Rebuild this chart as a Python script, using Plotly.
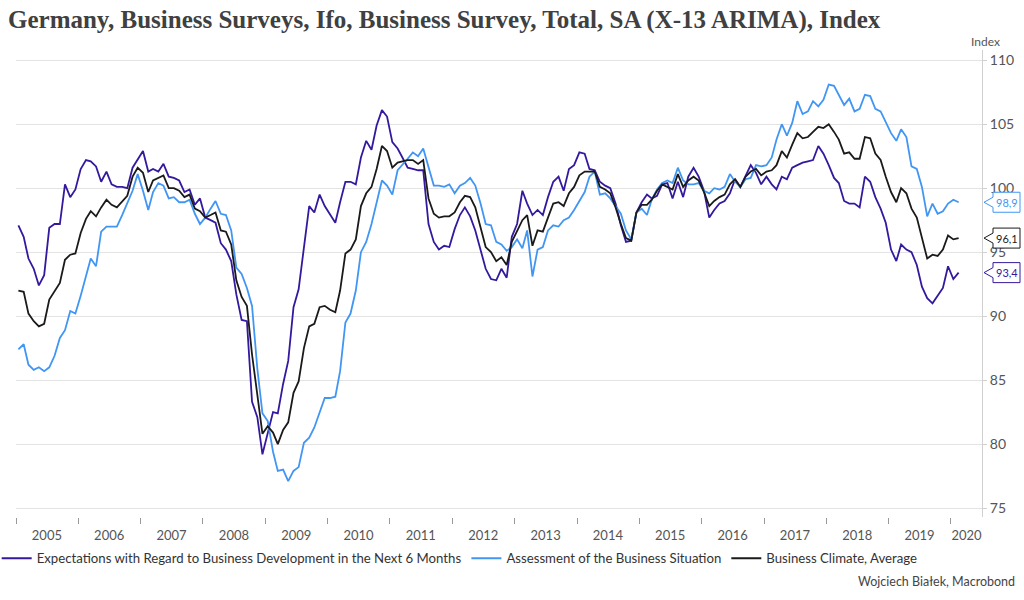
import pandas as pd
import plotly.graph_objects as go

# Monthly data Jan 2005 .. Feb 2020
start_month = "2005-01-01"

expectations = [
    97.1, 96.2, 94.5, 93.7, 92.4, 93.2, 96.9, 97.2, 97.2, 100.3, 99.3, 99.9,
    101.5, 102.2, 102.1, 101.7, 100.5, 101.3, 100.3, 100.1, 100.1, 100.0, 101.6, 102.2,
    102.9, 101.3, 101.5, 101.3, 101.9, 100.9, 100.8, 100.6, 99.7, 99.9, 98.7, 99.2,
    97.7, 97.5, 97.3, 95.7, 95.2, 94.3, 91.7, 89.7, 89.6, 83.3, 82.1, 79.2,
    80.9, 82.5, 82.4, 84.7, 86.5, 90.7, 92.1, 95.4, 98.6, 98.1, 99.5, 98.6,
    98.0, 97.3, 98.9, 100.5, 100.5, 100.3, 102.4, 103.7, 103.0, 104.9, 106.1, 105.6,
    103.6, 103.1, 102.4, 101.6, 101.5, 101.4, 101.4, 97.2, 95.8, 95.2, 95.5, 95.4,
    96.8, 97.9, 98.5, 97.8, 96.7, 95.1, 93.7, 92.9, 92.8, 93.7, 93.0, 96.2,
    97.2, 99.8, 98.8, 97.9, 98.3, 97.9, 99.3, 100.5, 100.9, 99.8, 101.5, 101.8,
    102.8, 102.7, 101.5, 101.4, 100.5, 100.2, 100.0, 98.8, 97.1, 95.8, 95.9, 98.1,
    98.9, 99.5, 99.2, 99.4, 100.3, 100.4, 99.2, 100.5, 99.3, 100.9, 101.6, 100.9,
    99.8, 97.7, 98.3, 98.8, 99.0, 99.6, 100.7, 100.1, 101.0, 101.8, 101.2, 100.3,
    100.9, 100.3, 99.9, 100.9, 100.7, 101.6, 101.8, 102.0, 102.1, 102.2, 103.3, 102.7,
    101.8, 100.8, 100.4, 99.0, 98.8, 98.8, 98.5, 100.9, 100.5, 99.3, 98.4, 97.3,
    95.2, 94.3, 95.6, 95.2, 95.0, 94.0, 92.3, 91.4, 91.0, 91.6, 92.2, 93.9,
    92.9, 93.4,
]

assessment = [
    87.4, 87.8, 86.2, 85.8, 86.0, 85.7, 86.0, 86.9, 88.3, 88.9, 90.4, 90.2,
    91.6, 93.1, 94.5, 93.9, 96.6, 97.0, 97.0, 97.0, 97.9, 98.8, 99.8, 101.1,
    99.8, 98.3, 99.7, 100.4, 100.2, 99.2, 99.3, 98.9, 98.9, 99.1, 98.0, 97.2,
    97.7, 98.4, 99.0, 98.0, 97.9, 96.7, 93.8, 93.3, 92.2, 90.8, 85.9, 82.4,
    81.8, 79.4, 77.9, 78.0, 77.1, 77.9, 78.2, 80.1, 80.5, 81.3, 82.4, 83.6,
    83.6, 83.7, 85.7, 89.5, 90.2, 92.0, 95.0, 95.8, 97.2, 98.9, 100.6, 100.2,
    99.5, 101.4, 101.8, 102.3, 102.8, 102.5, 103.1, 101.7, 100.2, 100.2, 100.1, 100.3,
    99.6, 100.2, 100.4, 100.8, 100.2, 98.8, 97.2, 97.1, 95.8, 95.6, 95.1, 95.4,
    96.0, 95.3, 96.7, 93.1, 95.2, 95.4, 96.7, 97.1, 97.0, 97.5, 97.7, 98.3,
    99.0, 99.7, 100.9, 101.3, 99.5, 99.6, 99.2, 98.6, 98.0, 96.7, 96.0, 98.1,
    98.4, 97.9, 99.1, 99.9, 100.4, 100.6, 100.4, 101.6, 100.6, 100.3, 100.3, 100.4,
    99.8, 99.6, 100.0, 99.9, 100.1, 101.1, 100.5, 100.1, 100.7, 100.8, 101.8, 101.7,
    101.8, 102.4, 103.8, 105.0, 104.1, 105.1, 106.8, 105.8, 106.0, 106.8, 106.4, 106.9,
    108.1, 108.0, 107.3, 106.5, 107.0, 106.0, 106.2, 107.3, 107.2, 106.2, 106.0, 105.2,
    104.3, 103.7, 104.6, 104.0, 101.7, 101.5, 100.1, 97.8, 98.8, 98.0, 98.2, 98.8,
    99.1, 98.9,
]

climate = [
    92.0, 91.9, 90.2, 89.6, 89.2, 89.4, 91.3, 91.9, 92.6, 94.4, 94.8, 94.9,
    96.5, 97.6, 98.2, 97.8, 98.5, 99.1, 98.7, 98.5, 99.0, 99.4, 100.9, 101.6,
    101.2, 99.7, 100.6, 100.8, 101.0, 100.0, 100.0, 99.8, 99.3, 99.5, 98.4, 98.2,
    97.7, 97.9, 98.1, 96.7, 96.6, 95.6, 92.8, 91.5, 90.8, 87.0, 84.0, 80.8,
    81.4, 80.9, 80.0, 81.1, 81.7, 84.0, 84.9, 87.5, 89.2, 89.4, 90.7, 90.8,
    90.5, 90.3, 92.0, 94.9, 95.2, 96.0, 98.6, 99.6, 100.1, 101.5, 103.3, 102.9,
    101.6, 102.0, 102.1, 102.2, 102.2, 101.9, 102.2, 99.2, 98.0, 97.7, 97.8, 97.8,
    98.1, 98.9, 99.4, 99.3, 98.5, 97.0, 95.4, 95.0, 94.3, 94.6, 94.0, 95.8,
    96.6, 97.5, 97.9, 95.5, 96.7, 96.6, 97.7, 98.8, 98.9, 98.6, 99.6, 100.1,
    101.0, 101.3, 101.3, 101.3, 100.1, 99.9, 99.6, 98.5, 97.2, 96.1, 95.9, 98.1,
    98.7, 98.7, 99.1, 99.8, 100.3, 100.1, 99.9, 101.1, 100.1, 100.6, 100.9, 100.6,
    99.7, 98.6, 99.0, 99.3, 99.5, 100.3, 100.7, 100.1, 100.9, 101.3, 101.5, 101.0,
    101.3, 101.4, 101.8, 102.9, 102.4, 103.4, 104.3, 103.9, 104.0, 104.4, 104.8, 104.7,
    105.0, 104.4, 103.8, 102.7, 102.8, 102.3, 102.3, 104.0, 103.9, 102.7, 102.2, 100.9,
    99.7, 98.9, 100.0, 99.6, 98.4, 97.7, 96.2, 94.5, 94.8, 94.7, 95.2, 96.3,
    96.0, 96.1,
]

series_names = [
    "Expectations with Regard to Business Development in the Next 6 Months",
    "Assessment of the Business Situation",
    "Business Climate, Average",
]
series_values = [expectations, assessment, climate]
series_colors = ["#34199e", "#4196f4", "#1a1a1a"]

year_labels = [str(y) for y in range(2005, 2021)]
y_ticks = [75, 80, 85, 90, 95, 100, 105, 110]

dates = pd.date_range(start_month, periods=len(climate), freq="MS") + pd.Timedelta(days=14)
year_starts = [pd.Timestamp(f"{y}-01-01") for y in year_labels]
x_end = pd.Timestamp("2020-07-01")
label_pos = [pd.Timestamp(f"{y}-07-01") for y in year_labels[:-1]] + [pd.Timestamp("2020-04-01")]

fig = go.Figure()
for name, vals, col in zip(series_names, series_values, series_colors):
    fig.add_trace(go.Scatter(x=dates, y=vals, mode="lines", name=name,
                             line=dict(color=col, width=1.8)))
# helper invisible trace to host the label axis
fig.add_trace(go.Scatter(x=[dates[0], dates[-1]], y=[None, None], xaxis="x2",
                         showlegend=False, hoverinfo="skip"))

font_main = "Lato, Roboto, sans-serif"

# end-value callouts
shapes = []
annotations = []
for vals, col in zip(series_values, series_colors):
    v = vals[-1]
    shapes.append(dict(type="path", xref="paper", yref="y", xsizemode="pixel",
                       ysizemode="pixel", xanchor=1, yanchor=v,
                       path="M 2 0 L 11 -5 L 11 -10 L 38 -10 L 38 10 L 11 10 L 11 5 Z",
                       line=dict(color=col, width=1), fillcolor="white", layer="above"))
    annotations.append(dict(xref="paper", yref="y", x=1, y=v, xshift=24.5,
                            text=f"{v:.1f}".replace(".", ","), showarrow=False,
                            xanchor="center", yanchor="middle",
                            font=dict(family=font_main, size=11, color=col)))

annotations.append(dict(xref="paper", yref="paper", x=1, y=1.019, xshift=3,
                        text="Index", showarrow=False, xanchor="center", yanchor="middle",
                        font=dict(family=font_main, size=12, color="#555")))
annotations.append(dict(xref="paper", yref="paper", x=1, y=-0.139, xshift=35,
                        text="Wojciech Białek, Macrobond", showarrow=False,
                        xanchor="right", yanchor="middle",
                        font=dict(family=font_main, size=12.5, color="#444")))

fig.update_layout(
    width=1024, height=600,
    margin=dict(l=16, r=42, t=50, b=83, autoexpand=False),
    paper_bgcolor="white", plot_bgcolor="white",
    title=dict(text="<b>Germany, Business Surveys, Ifo, Business Survey, Total, SA (X-13 ARIMA), Index</b>",
               x=8 / 1024, xref="container", xanchor="left",
               y=1 - 19 / 600, yref="container", yanchor="middle",
               font=dict(family="Liberation Serif, serif", size=25, color="#404040")),
    xaxis=dict(range=[year_starts[0], x_end], tickvals=year_starts, showticklabels=False,
               ticks="outside", ticklen=6, tickcolor="#999", tickwidth=1,
               showgrid=False, zeroline=False, showline=False),
    xaxis2=dict(range=[year_starts[0], x_end], overlaying="x", anchor="y", side="bottom",
                tickvals=label_pos, ticktext=year_labels, ticks="outside", ticklen=6,
                tickcolor="rgba(0,0,0,0)", showgrid=False, zeroline=False, showline=False,
                tickfont=dict(family=font_main, size=13, color="#555")),
    yaxis=dict(range=[74.3, 110.8], side="right", tickvals=y_ticks,
               gridcolor="#e3e3e3", gridwidth=1, zeroline=False,
               showline=True, linecolor="#d0d0d0", ticks="outside", ticklen=4,
               tickcolor="#d0d0d0",
               tickfont=dict(family=font_main, size=14, color="#555")),
    legend=dict(orientation="h", x=-0.02, xanchor="left", y=-0.056, yanchor="top",
                font=dict(family=font_main, size=13.2, color="#333"),
                itemwidth=30, tracegroupgap=0, bgcolor="rgba(0,0,0,0)"),
    shapes=shapes,
    annotations=annotations,
    showlegend=True,
)

fig.write_html("out.html")
